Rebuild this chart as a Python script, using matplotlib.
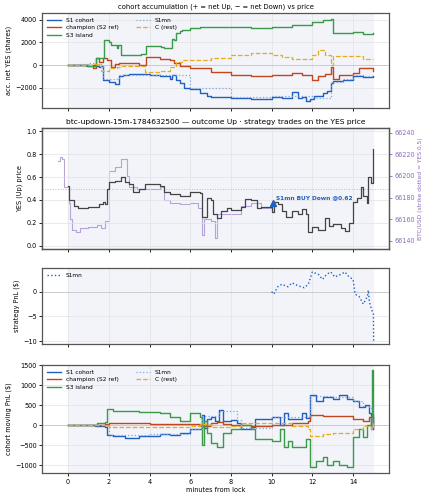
import matplotlib
matplotlib.use("Agg")
import matplotlib.pyplot as plt
import numpy as np

# ---- panel 1: accumulated net YES shares ----
s1_t = [0,1.3,1.5,1.6,1.7,2.0,2.2,2.3,2.5,2.7,3.0,4.0,4.5,5.0,5.1,5.3,5.5,5.7,6,6.5,6.8,7.0,8,9,10,10.5,11,11.3,11.5,11.7,11.9,12.1,12.5,12.7,12.9,13.0,13.5,14,14.5,15]
s1_v = [0,-100,-200,-100,-1300,-1500,-1500,-1700,-1000,-900,-800,-900,-1000,-1200,-900,-1300,-1600,-2000,-2100,-2500,-2700,-2800,-2900,-3000,-2800,-2900,-2400,-2900,-2800,-3200,-3000,-2700,-2500,-2300,-1600,-1400,-1300,-1000,-1100,-1000]
s3_t = [0,0.9,1.3,1.35,1.7,1.75,2.0,2.1,2.4,2.45,2.6,3.5,3.6,3.8,3.85,4.5,4.55,4.7,5.0,5.1,5.2,5.3,5.5,5.6,6.0,6.5,8,9,10,11,12,12.5,12.9,13.0,13.5,14,14.5,15]
s3_v = [0,-100,-100,600,600,2200,2000,1800,1500,1800,900,900,1000,1000,1700,1700,1600,1500,1500,2300,2200,2800,3000,3100,3300,3400,3400,3300,3400,3500,3800,4000,4100,2800,2800,2900,2700,2800]
ch_t = [0,1,1.2,1.35,1.5,1.7,1.9,2.1,2.3,2.5,3.5,3.8,3.85,4.5,5,5.2,5.5,6,7,8,9,10,11,11.5,12,12.3,12.6,12.9,13.0,13.3,14,14.3,14.5,15]
ch_v = [0,-100,-300,600,300,600,400,-200,100,200,0,0,700,500,400,200,-100,-300,-600,-900,-1000,-900,-700,-900,-1300,-1000,-800,-200,-1200,-900,-700,-300,-300,-500]
c_t = [0,1.2,1.6,2.0,2.4,2.6,3.5,3.8,4.5,5,5.3,5.6,6,7,8,9,10,10.5,11,12,12.3,12.6,12.9,13.0,14,14.5,15]
c_v = [0,100,-500,-300,-200,-100,-100,-600,-500,-200,300,400,400,600,900,1100,900,700,500,900,1300,900,0,800,800,500,500]
mn_t = [0,0.5,1.0,1.3,1.6,1.7,2.5,4,6,8,10,12,12.9,13.5,14,14.5,15]
mn_v = [0,100,200,100,-100,-1200,-900,-850,-2000,-2850,-2750,-2900,-1500,-1200,-900,-1000,-900]

# ---- panel 2: YES price and BTC ----
yes_t = [0,0.05,0.3,0.5,1.0,1.5,1.7,1.8,1.9,2.0,2.3,2.6,2.8,3.0,3.2,3.5,3.8,4.5,4.7,5.0,5.5,6.0,6.5,6.6,6.8,7.0,7.1,7.3,7.5,7.8,8.0,8.5,8.7,9,9.3,9.5,10,10.1,10.3,10.5,10.7,11,11.3,11.5,11.7,11.8,12,12.3,12.6,12.8,13.0,13.4,13.6,13.8,14,14.2,14.4,14.5,14.7,14.75,14.9,15.0]
yes_v = [0.52,0.4,0.35,0.33,0.34,0.36,0.38,0.36,0.5,0.56,0.57,0.6,0.56,0.54,0.47,0.5,0.54,0.52,0.47,0.45,0.43,0.47,0.46,0.25,0.42,0.4,0.28,0.24,0.3,0.33,0.31,0.34,0.41,0.4,0.33,0.34,0.29,0.38,0.36,0.3,0.25,0.3,0.28,0.32,0.28,0.12,0.16,0.14,0.24,0.17,0.19,0.15,0.13,0.2,0.38,0.42,0.51,0.43,0.37,0.6,0.55,0.85]
btc_t = [-0.5,-0.4,-0.3,-0.2,0.0,0.05,0.1,0.2,0.4,0.6,1.0,1.4,1.6,1.8,2.0,2.3,2.6,2.9,3.0,3.4,4.5,4.7,5.0,5.5,6.0,6.4,6.6,6.7,7.0,7.2,7.3,7.8,8.5,9,9.5,10]
btc_v = [66214,66218,66216,66190,66190,66175,66160,66150,66148,66152,66153,66155,66152,66158,66205,66208,66216,66200,66190,66188,66190,66178,66175,66174,66175,66170,66145,66160,66158,66143,66165,66165,66172,66175,66170,66168]
trade_t, trade_p = 10.05, 0.37

# ---- panel 3: strategy PnL ----
pnl_t = [10,10.1,10.3,10.5,10.8,11.0,11.3,11.6,11.8,12,12.3,12.5,12.7,12.9,13.1,13.4,13.6,13.8,14,14.1,14.3,14.5,14.7,14.75,14.8,14.9,15,15.01]
pnl_v = [0,-0.5,1,1.5,1,1.8,1.2,0.8,1.5,4,3.5,2.5,3.5,4,3,3.5,4,3,2.5,-0.5,-1,-2.5,-1,0.3,-2,-3.5,-4.5,-10]

# ---- panel 4: cohort moving PnL ----
m1_t = [0,1.3,1.8,1.9,2.2,2.8,3.5,4.5,5,5.5,6.0,6.5,6.6,6.7,6.8,7.0,7.2,7.4,7.6,8,8.3,8.5,9,9.2,10,10.4,10.6,10.8,11,11.5,11.7,11.9,12.2,12.5,13,13.3,13.7,14,14.3,14.6,14.8,14.9,15]
m1_v = [0,-20,-50,-250,-280,-320,-280,-230,-260,-200,-100,-100,250,-80,150,200,100,380,100,120,50,-100,-50,150,200,0,300,150,150,300,170,750,600,700,650,750,650,600,450,500,300,-100,250]
m3_t = [0,1.4,1.8,1.9,2.2,2.8,3.5,4.5,5,5.5,6.0,6.5,6.6,6.7,6.8,7,7.3,7.6,8,8.5,9,9.2,10,10.4,10.6,10.8,11,11.5,11.7,11.9,12.2,12.5,12.7,13,13.3,13.7,14,14.3,14.5,14.7,14.9,14.95,15]
m3_v = [0,40,80,400,350,350,320,300,200,100,300,200,-500,100,-200,-450,-550,-200,-100,0,-100,-350,-400,-100,-550,-400,-550,-550,-350,-1050,-900,-800,-1000,-900,-1000,-1050,-300,-100,-300,0,200,1380,0]
mc_t = [0,1.8,2,4,6,6.5,7,7.3,7.6,8,9,10,11,11.8,11.9,12.5,13,14,14.5,14.8,15]
mc_v = [0,20,60,30,20,-20,50,80,30,10,-20,0,50,100,250,230,220,150,100,200,-100]
mr_t = [0,1.8,2,4,6,6.5,7,8,8.5,10,11,11.8,11.9,12.5,13,14,14.5,14.9,15]
mr_v = [0,-20,-60,-40,-30,30,-50,-30,50,40,-30,-100,-280,-230,-200,-100,-30,-100,100]
mmn_t = [0,2,4,6,6.6,7.4,8.3,8.5,10,11.9,13,14,14.5,14.8,15]
mmn_v = [0,-250,-230,-100,230,360,130,-80,190,720,700,590,470,420,300]

BLUE, RED, GREEN, YEL, MN = "#1f5fbf", "#c0461b", "#3a9a47", "#e6ac1f", "#7fa6df"
SHADE = "#f2f4fa"
FS = 4.7
LFS = 4.2
plt.rcParams.update({"font.size": FS, "axes.edgecolor": "#555555", "axes.linewidth": 0.9})

fig = plt.figure(figsize=(4.29, 5.0), dpi=100)
L, W = 0.098, 0.809
ax1 = fig.add_axes([L, 0.784, W, 0.190])
ax2 = fig.add_axes([L, 0.502, W, 0.242])
ax3 = fig.add_axes([L, 0.312, W, 0.152])
ax4 = fig.add_axes([L, 0.054, W, 0.216])
for a in (ax1, ax2, ax3, ax4):
    a.set_xlim(-1.28, 15.77)
    if a is not ax2:
        a.axvspan(0, 15, color=SHADE, zorder=0)
    a.grid(True, color="#e2e2e2", lw=0.5)
    a.set_axisbelow(True)
    a.set_xticks(range(0, 15, 2))
    a.tick_params(labelsize=FS, length=2.5, width=0.6, pad=1.5)
for a in (ax1, ax2, ax3):
    a.tick_params(labelbottom=False)

def cohort(ax, data):
    (a, b), (c, d), (e, f), (g, h), (i, j) = data
    ax.axhline(0, color="#cccccc", lw=0.7, zorder=1)
    ax.step(a, b, where="post", color=BLUE, lw=1.0, label="S1 cohort")
    ax.step(c, d, where="post", color=RED, lw=1.0, label="champion (S2 ref)")
    ax.step(e, f, where="post", color=GREEN, lw=1.0, label="S3 island")
    ax.step(g, h, where="post", color=MN, lw=0.9, ls=":", label="S1mn")
    ax.step(i, j, where="post", color=YEL, lw=0.9, ls="--", label="C (rest)")
    ax.legend(loc="upper left", ncol=2, fontsize=LFS, frameon=False, columnspacing=3.0,
              handlelength=2.4, labelspacing=0.35)

cohort(ax1, [(s1_t, s1_v), (ch_t, ch_v), (s3_t, s3_v), (mn_t, mn_v), (c_t, c_v)])
ax1.set_ylim(-3800, 4600)
ax1.set_yticks([-2000, 0, 2000, 4000])
ax1.set_ylabel("acc. net YES (shares)", fontsize=FS, labelpad=2)
ax1.set_title("cohort accumulation (+ = net Up, − = net Down) vs price", fontsize=4.9, pad=3)

axr = ax2.twinx()
axr.axvspan(0, 15, color=SHADE, zorder=0)
axr.step(btc_t, btc_v, where="post", color="#a78fcf", lw=0.8, alpha=0.8, zorder=2)
axr.set_ylim(66135.6 - 0.03 * 105.6, 66135.6 + 1.03 * 105.6)
axr.set_yticks(range(66140, 66241, 20))
axr.tick_params(labelsize=FS, colors="#8c6bb8", length=2.5, width=0.6, pad=1.5)
axr.set_ylabel("BTC/USD (strike dotted = YES 0.5)", fontsize=4.3, color="#8c6bb8", labelpad=2)
ax2.set_zorder(axr.get_zorder() + 1)
ax2.patch.set_visible(False)
ax2.axhline(0.5, color="#bbbbbb", lw=0.7, ls=":")
ax2.step(yes_t, yes_v, where="post", color="#444444", lw=0.9, zorder=3)
ax2.plot(trade_t, trade_p, marker="^", color=BLUE, ms=4.5, zorder=4)
ax2.text(trade_t + 0.15, trade_p + 0.04, "S1mn BUY Down @0.62", color=BLUE, fontsize=4.2, fontweight="bold")
ax2.set_ylim(-0.03, 1.03)
ax2.set_ylabel("YES (Up) price", fontsize=FS, labelpad=2)
ax2.set_title("btc-updown-15m-1784632500 — outcome Up · strategy trades on the YES price", fontsize=5.4, pad=3)

ax3.axhline(0, color="#cccccc", lw=0.7)
ax3.plot(pnl_t, pnl_v, color=BLUE, lw=1.0, ls=":", label="S1mn")
ax3.set_ylim(-10.6, 4.8)
ax3.set_yticks([-10, -5, 0])
ax3.set_ylabel("strategy PnL ($)", fontsize=FS, labelpad=2)
ax3.legend(loc="upper left", fontsize=LFS, frameon=False, handlelength=2.4)

cohort(ax4, [(m1_t, m1_v), (mc_t, mc_v), (m3_t, m3_v), (mmn_t, mmn_v), (mr_t, mr_v)])
ax4.set_ylim(-1200, 1500)
ax4.set_yticks([-1000, -500, 0, 500, 1000, 1500])
ax4.set_ylabel("cohort moving PnL ($)", fontsize=FS, labelpad=2)
ax4.set_xlabel("minutes from lock", fontsize=FS, labelpad=2)

fig.savefig("out.png", dpi=100)
